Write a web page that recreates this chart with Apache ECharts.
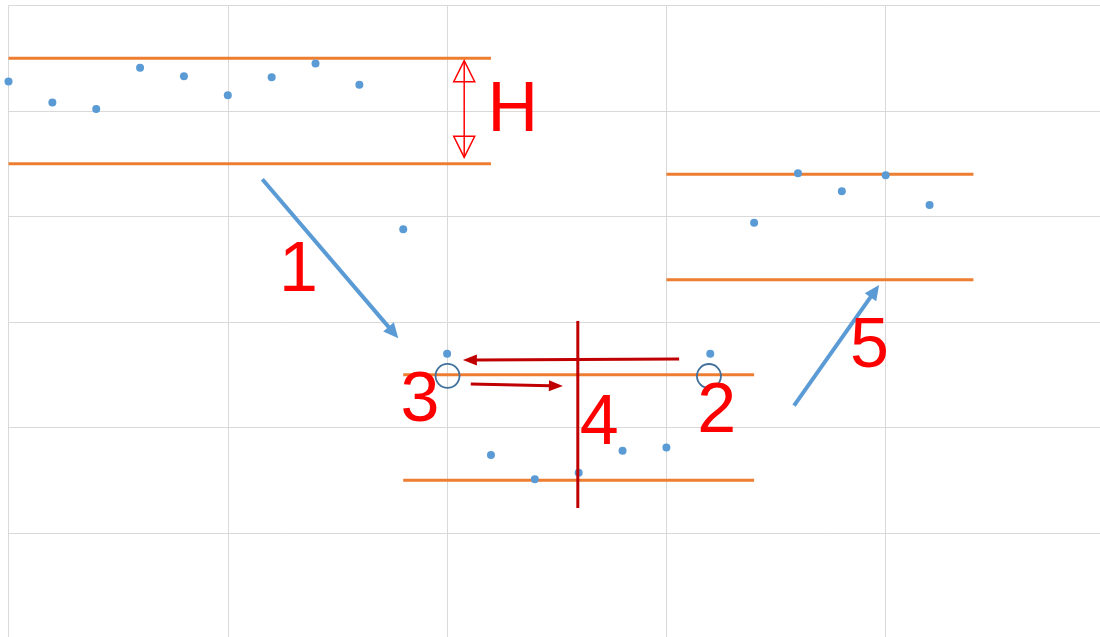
<!DOCTYPE html>
<html>
<head>
<meta charset="utf-8">
<title>Level shift detection</title>
<script src="https://cdn.jsdelivr.net/npm/echarts@6/dist/echarts.min.js"></script>
<style>
  html, body { margin: 0; padding: 0; background: #fff; }
  #chart { width: 1100px; height: 637px; }
</style>
</head>
<body>
<div id="chart"></div>
<script>
// measurements, one per x step
var xValues = [0, 1, 2, 3, 4, 5, 6, 7, 8, 9, 10, 11, 12, 13, 14, 15, 16, 17, 18, 19, 20, 21];
var yValues = [5.28, 5.08, 5.02, 5.41, 5.33, 5.15, 5.32, 5.45, 5.25, 3.88, 2.70,
               1.74, 1.51, 1.57, 1.78, 1.81, 2.70, 3.94, 4.41, 4.24, 4.39, 4.11];

// bands of height H (start x, end x, lower edge, upper edge)
var bandStart = [0, 9, 15];
var bandEnd   = [11, 17, 22];
var bandLow   = [4.5, 1.5, 3.4];
var bandHigh  = [5.5, 2.5, 4.4];

var chart = echarts.init(document.getElementById('chart'));

var series = [];
for (var i = 0; i < bandStart.length; i++) {
    [bandLow[i], bandHigh[i]].forEach(function (lvl) {
        series.push({
            type: 'line',
            data: [[bandStart[i], lvl], [bandEnd[i], lvl]],
            showSymbol: false,
            symbol: 'none',
            silent: true,
            lineStyle: { color: '#ED7D31', width: 3 },
            z: 2
        });
    });
}
series.push({
    type: 'scatter',
    data: xValues.map(function (x, k) { return [x, yValues[k]]; }),
    symbolSize: 8,
    itemStyle: { color: '#5B9BD5', opacity: 1 },
    z: 4
});

var option = {
    animation: false,
    backgroundColor: '#fff',
    grid: { left: 8.5, top: 5.5, width: 1096.5, height: 633, outerBoundsMode: 'none' },
    xAxis: {
        type: 'value', min: 0, max: 25, interval: 5,
        axisLine: { show: false }, axisTick: { show: false }, axisLabel: { show: false },
        splitLine: { show: true, lineStyle: { color: '#D9D9D9', width: 1 } }
    },
    yAxis: {
        type: 'value', min: 0, max: 6, interval: 1,
        axisLine: { show: false }, axisTick: { show: false }, axisLabel: { show: false },
        splitLine: { show: true, lineStyle: { color: '#D9D9D9', width: 1 } }
    },
    series: series
};
chart.setOption(option);

// annotations, anchored in data coordinates
function px(p) { return chart.convertToPixel({ gridIndex: 0 }, p); }

function arrow(from, to, color, width, headLen, headW) {
    var a = px(from), b = px(to);
    var dx = b[0] - a[0], dy = b[1] - a[1];
    var L = Math.sqrt(dx * dx + dy * dy), ux = dx / L, uy = dy / L;
    var bx = b[0] - ux * headLen, by = b[1] - uy * headLen;
    var nx = -uy * headW / 2, ny = ux * headW / 2;
    return [
        { type: 'line', z: 10, shape: { x1: a[0], y1: a[1], x2: bx + ux, y2: by + uy },
          style: { stroke: color, lineWidth: width } },
        { type: 'polygon', z: 10, shape: { points: [b, [bx + nx, by + ny], [bx - nx, by - ny]] },
          style: { fill: color } }
    ];
}

function hollowDouble(x, yTop, yBot, color, headLen, headW) {
    var t = px([x, yTop]), b = px([x, yBot]);
    return [
        { type: 'polygon', z: 10, shape: { points: [t, [t[0] - headW / 2, t[1] + headLen], [t[0] + headW / 2, t[1] + headLen]] },
          style: { fill: 'none', stroke: color, lineWidth: 1.5 } },
        { type: 'polygon', z: 10, shape: { points: [b, [b[0] - headW / 2, b[1] - headLen], [b[0] + headW / 2, b[1] - headLen]] },
          style: { fill: 'none', stroke: color, lineWidth: 1.5 } },
        { type: 'line', z: 10, shape: { x1: t[0], y1: t[1], x2: b[0], y2: b[1] },
          style: { stroke: color, lineWidth: 1.5 } }
    ];
}

function label(text, p) {
    var q = px(p);
    return {
        type: 'text', z: 11,
        style: {
            text: text, x: q[0], y: q[1], fill: '#FF0000',
            font: '70px "Liberation Sans", Arial, sans-serif',
            align: 'center', verticalAlign: 'middle',
            textAlign: 'center', textVerticalAlign: 'middle'
        }
    };
}

function ring(p) {
    var q = px(p);
    return { type: 'circle', z: 9, shape: { cx: q[0], cy: q[1], r: 12 },
             style: { fill: 'none', stroke: '#41719C', lineWidth: 1.8 } };
}

var v0 = px([12.98, 3.01]), v1 = px([12.98, 1.237]);
var g = [].concat(
    arrow([5.787, 4.353], [8.887, 2.846], '#5B9BD5', 4, 15, 14),
    arrow([17.91, 2.207], [19.85, 3.351], '#5B9BD5', 4, 15, 14),
    arrow([15.29, 2.649], [10.36, 2.640], '#C00000', 3, 14, 11),
    arrow([10.54, 2.412], [12.64, 2.393], '#C00000', 3, 14, 11),
    hollowDouble(10.39, 5.477, 4.561, '#FF0000', 21, 21),
    [
        { type: 'line', z: 10, shape: { x1: v0[0], y1: v0[1], x2: v1[0], y2: v1[1] },
          style: { stroke: '#C00000', lineWidth: 3 } },
        ring([10.01, 2.49]),
        ring([15.97, 2.488]),
        label('H', [11.50, 4.99]),
        label('1', [6.61, 3.474]),
        label('3', [9.38, 2.246]),
        label('4', [13.47, 2.028]),
        label('2', [16.15, 2.137]),
        label('5', [19.63, 2.754])
    ]
);
chart.setOption({ graphic: { elements: g } });
</script>
</body>
</html>
